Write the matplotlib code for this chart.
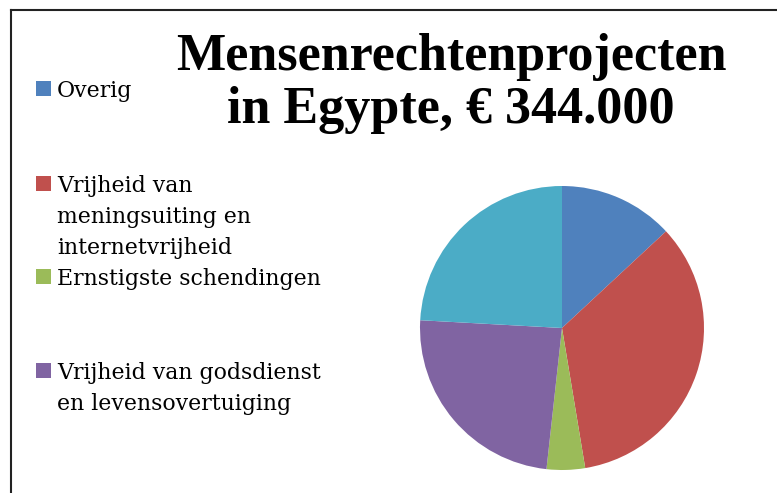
import matplotlib
matplotlib.use("Agg")
import matplotlib.pyplot as plt
from matplotlib.lines import Line2D
from matplotlib.patches import Rectangle

W, H = 777, 493
title_lines = ["Mensenrechtenprojecten", "in Egypte, € 344.000"]
categories = ["Overig",
              "Vrijheid van\nmeningsuiting en\ninternetvrijheid",
              "Ernstigste schendingen",
              "Vrijheid van godsdienst\nen levensovertuiging",
              "Overige projecten"]
values = [45000, 118000, 15000, 83000, 83000]
colors = ["#4F81BD", "#C0504D", "#9BBB59", "#8064A2", "#4BACC6"]
legend_shown = 4  # the legend box cuts off the fifth entry

fig = plt.figure(figsize=(W / 100, H / 100), dpi=100)
fig.patch.set_facecolor("white")

def fx(px):
    return px / W

def fy(py):
    return 1 - py / H

# frame (left and top edges visible)
fig.add_artist(Line2D([fx(11), fx(11)], [fy(10), fy(H + 5)], color="#222222", lw=1.5,
                      transform=fig.transFigure))
fig.add_artist(Line2D([fx(11), fx(W + 5)], [fy(10), fy(10)], color="#222222", lw=1.5,
                      transform=fig.transFigure))

# pie
cx, cy, r = 562, 328, 142
ax = fig.add_axes([fx(cx - r), fy(cy + r), (2 * r) / W, (2 * r) / H])
ax.pie(values, colors=colors, startangle=90, counterclock=False, radius=1,
       wedgeprops=dict(linewidth=0))
ax.set_xlim(-1, 1)
ax.set_ylim(-1, 1)
ax.set_aspect("equal")
ax.axis("off")

# title
title_baselines = [70, 123]
for line, b in zip(title_lines, title_baselines):
    fig.text(fx(451), fy(b), line, ha="center", va="baseline",
             fontsize=37.5, fontweight="bold", family="Liberation Serif")

# legend
legend_first_baselines = [97, 192, 285, 379]
line_gap = 31
for i in range(legend_shown):
    b = legend_first_baselines[i]
    fig.add_artist(Rectangle((fx(36), fy(b - 1)), 15 / W, 15 / H,
                             facecolor=colors[i], edgecolor="none",
                             transform=fig.transFigure))
    for j, ln in enumerate(categories[i].split("\n")):
        fig.text(fx(57), fy(b + j * line_gap), ln, ha="left", va="baseline",
                 fontsize=15.8, family="DejaVu Serif", color="black")

fig.savefig("out.png", dpi=100)
